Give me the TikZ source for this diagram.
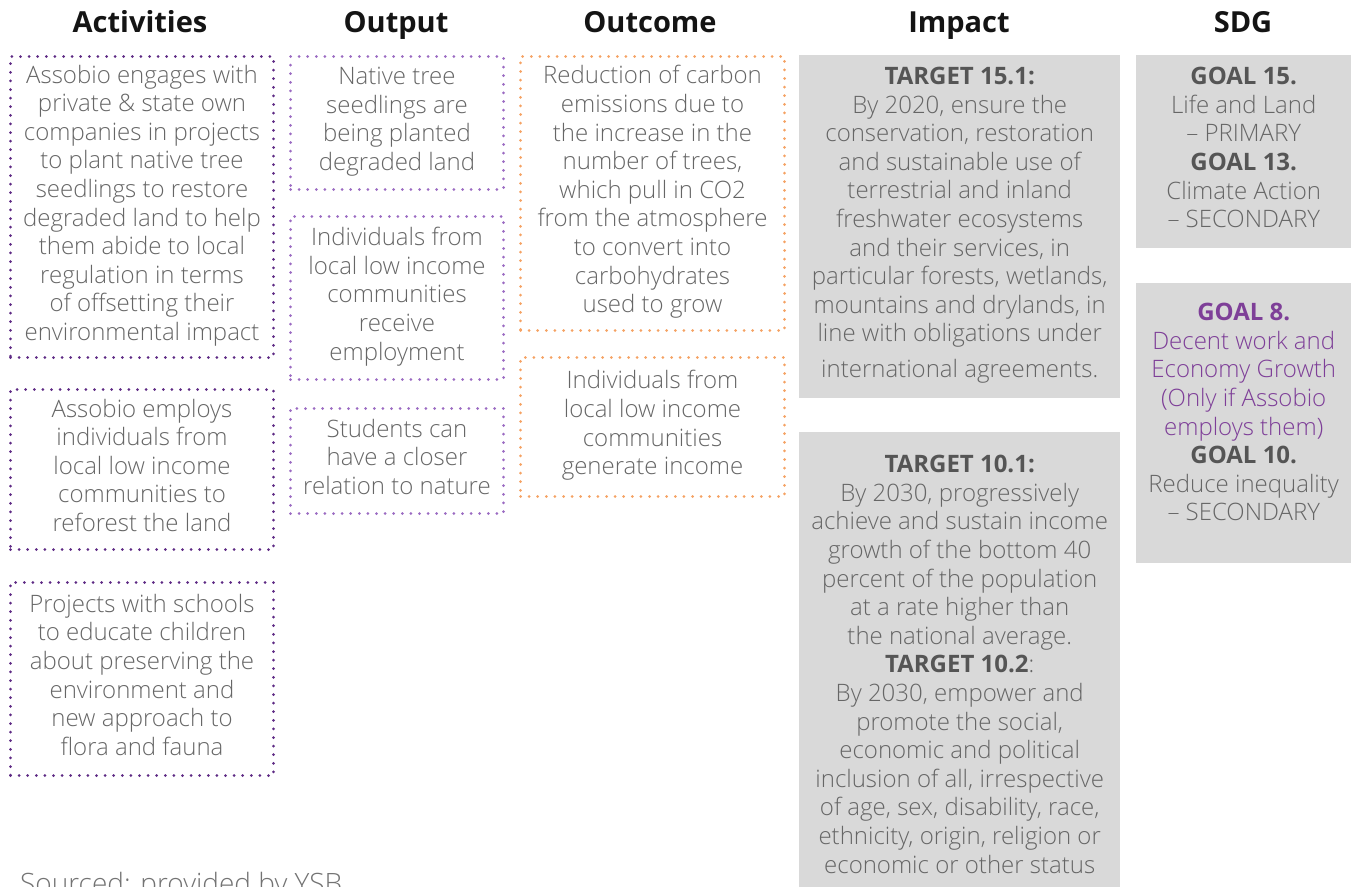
\documentclass[tikz,border=0pt]{standalone}
\usepackage{fontspec}
\setmainfont{Open Sans}[UprightFont=* Light, BoldFont=* Bold]
\usetikzlibrary{positioning}

\definecolor{actcol}{HTML}{5E2A84}
\definecolor{outcol}{HTML}{9B6BC2}
\definecolor{occol}{HTML}{F5A263}
\definecolor{boxgray}{HTML}{D9D9D9}
\definecolor{txtgray}{HTML}{666666}
\definecolor{tgtgray}{HTML}{555555}
\definecolor{goalcol}{HTML}{7E3F98}
\newcommand\tgt[1]{\textcolor{tgtgray}{\textbf{#1}}}

\tikzset{
  head/.style={font=\fontsize{29}{31}\selectfont\bfseries,text=black!92,anchor=base},
  body/.style={font=\fontsize{24}{28.6}\selectfont,text=txtgray,align=center,inner sep=0pt,
    execute at begin node=\strut,execute at end node=\strut},
  dotbox/.style={body,draw=#1,line width=3pt,line cap=round,
    dash pattern=on 0pt off 8.6pt,anchor=north west},
  actbox/.style={dotbox=actcol,minimum width=263pt},
  outbox/.style={dotbox=outcol,minimum width=213pt},
  ocbox/.style={dotbox=occol,minimum width=264pt},
  graybox/.style={fill=boxgray,anchor=north west,inner sep=0pt},
  graytxt/.style={body,anchor=north},
}

\begin{document}
\begin{tikzpicture}[x=1pt,y=-1pt]
  \useasboundingbox (0,0) rectangle (1351,886);

  % HEADERS
  \node[head] (hact) at (140,32.5) {Activities};
  \node[head] (hout) at (396,32.5) {Output};
  \node[head] (hoc)  at (650,32.5) {Outcome};
  \node[head] (himp) at (959,32.5) {Impact};
  \node[head] (hsdg) at (1243,32.5) {SDG};

  % ACTIVITIES
  \node[actbox,minimum height=301pt] (act1) at (9,55) {Assobio engages with\\private \& state own\\companies in projects\\to plant native tree\\seedlings to restore\\degraded land to help\\them abide to local\\regulation in terms\\of offsetting their\\environmental impact};
  \node[actbox,minimum height=160pt] (act2) at (9,388) {Assobio employs\\individuals from\\local low income\\communities to\\reforest the land};
  \node[actbox,minimum height=193pt] (act3) at (9,581) {Projects with schools\\to educate children\\about preserving the\\environment and\\new approach to\\flora and fauna};

  % OUTPUT
  \node[outbox,minimum height=133pt] (out1) at (289,55) {Native tree\\seedlings are\\being planted\\degraded land};
  \node[outbox,minimum height=163pt] (out2) at (289,215) {Individuals from\\local low income\\communities\\receive\\employment};
  \node[outbox,minimum height=105pt] (out3) at (289,407) {Students can\\have a closer\\relation to nature};

  % OUTCOME
  \node[ocbox,minimum height=274pt] (oc1) at (519,55) {Reduction of carbon\\emissions due to\\the increase in the\\number of trees,\\which pull in CO2\\from the atmosphere\\to convert into\\carbohydrates\\used to grow};
  \node[ocbox,minimum height=139pt] (oc2) at (519,356) {Individuals from\\local low income\\communities\\generate income};

  % IMPACT
  \node[graybox,minimum width=321pt,minimum height=343pt] (imp1) at (799,55) {};
  \node[graytxt] (imp1txt) at ([yshift=-12pt]imp1.north) {\tgt{TARGET 15.1:}\\By 2020, ensure the\\conservation, restoration\\and sustainable use of\\terrestrial and inland\\freshwater ecosystems\\and their services, in\\particular forests, wetlands,\\mountains and drylands, in\\line with obligations under\\[7pt]international agreements.};
  \node[graybox,minimum width=321pt,minimum height=470pt] (imp2) at (799,432) {};
  \node[graytxt] (imp2txt) at ([yshift=-23pt]imp2.north) {\tgt{TARGET 10.1:}\\By 2030, progressively\\achieve and sustain income\\growth of the bottom 40\\percent of the population\\at a rate higher than\\the national average.\\\tgt{TARGET 10.2}:\\By 2030, empower and\\promote the social,\\economic and political\\inclusion of all, irrespective\\of age, sex, disability, race,\\ethnicity, origin, religion or\\economic or other status};

  % SDG
  \node[graybox,minimum width=215pt,minimum height=193pt] (sdg1) at (1136,55) {};
  \node[graytxt] (sdg1txt) at ([yshift=-12pt]sdg1.north) {\tgt{GOAL 15.}\\Life and Land\\– PRIMARY\\\tgt{GOAL 13.}\\Climate Action\\– SECONDARY};
  \node[graybox,minimum width=215pt,minimum height=280pt] (sdg2) at (1136,283) {};
  \node[graytxt] (sdg2txt) at ([yshift=-20pt]sdg2.north) {\color{goalcol}\textbf{GOAL 8.}\\\color{goalcol}Decent work and\\\color{goalcol}Economy Growth\\\color{goalcol}(Only if Assobio\\\color{goalcol}employs them)\\\tgt{GOAL 10.}\\Reduce inequality\\– SECONDARY};

  % SOURCE
  \node[font=\fontsize{28}{30}\selectfont,text=black!55,anchor=base west,inner sep=0pt] (src) at (20,893) {Sourced: provided by YSB};
\end{tikzpicture}
\end{document}
